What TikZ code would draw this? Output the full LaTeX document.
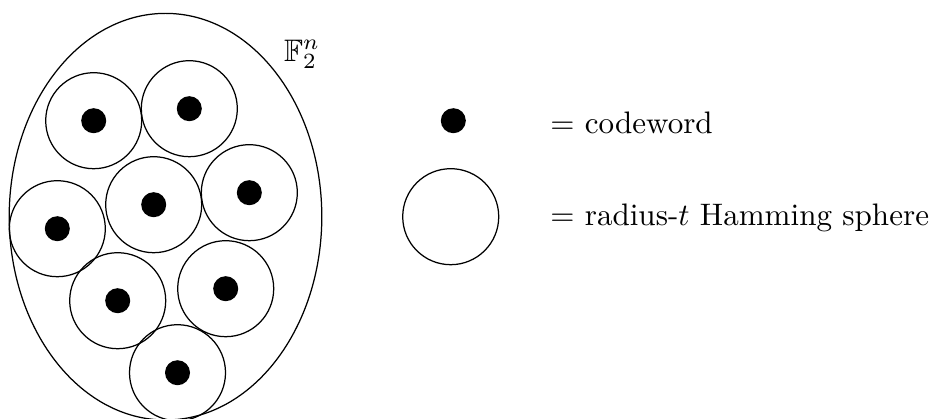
\documentclass[tikz,border=0pt]{standalone}
\usepackage{amssymb}
\usepackage{tikz}
\usetikzlibrary{positioning}

\tikzset{
  sphere/.style={line width=0.4pt},
  codeword/.style={fill=black},
  legendtext/.style={anchor=west, inner sep=3.333pt}
}

\begin{document}
\begin{tikzpicture}[x=0.965in,y=0.965in]
\useasboundingbox (0,0) rectangle (4.2985,1.9279);
% the space F_2^n
\draw[sphere] (0.7633,0.9285) ellipse (0.7209 and 0.9377);
\node (space) at (1.3929,1.6775) {$\mathbb{F}_2^n$};
% spheres round the codewords
\draw[sphere] (0.4322,1.3712) circle (0.2214);
\draw[sphere] (0.8731,1.4266) circle (0.2214);
\draw[sphere] (0.7089,0.9838) circle (0.2214);
\draw[sphere] (1.1499,1.0392) circle (0.2214);
\draw[sphere] (0.2643,0.8731) circle (0.2214);
\draw[sphere] (0.5429,0.5410) circle (0.2214);
\draw[sphere] (1.0410,0.5964) circle (0.2214);
\draw[sphere] (0.8187,0.2089) circle (0.2214);
% codewords
\fill[codeword] (0.4322,1.3712) circle (0.0577);
\fill[codeword] (0.8731,1.4266) circle (0.0577);
\fill[codeword] (0.7089,0.9838) circle (0.0577);
\fill[codeword] (1.1499,1.0392) circle (0.0577);
\fill[codeword] (0.2643,0.8731) circle (0.0577);
\fill[codeword] (0.5429,0.5410) circle (0.0577);
\fill[codeword] (1.0410,0.5964) circle (0.0577);
\fill[codeword] (0.8187,0.2089) circle (0.0577);
% legend
\fill[codeword] (2.0908,1.3712) circle (0.0577);
\draw[sphere] (2.0788,0.9285) circle (0.2214);
\node[legendtext] (cwtext) at (2.4874,1.3611) {$=$ codeword};
\node[legendtext] (sptext) at (2.4874,0.9225) {$=$ radius-$t$ Hamming sphere};
\end{tikzpicture}
\end{document}
